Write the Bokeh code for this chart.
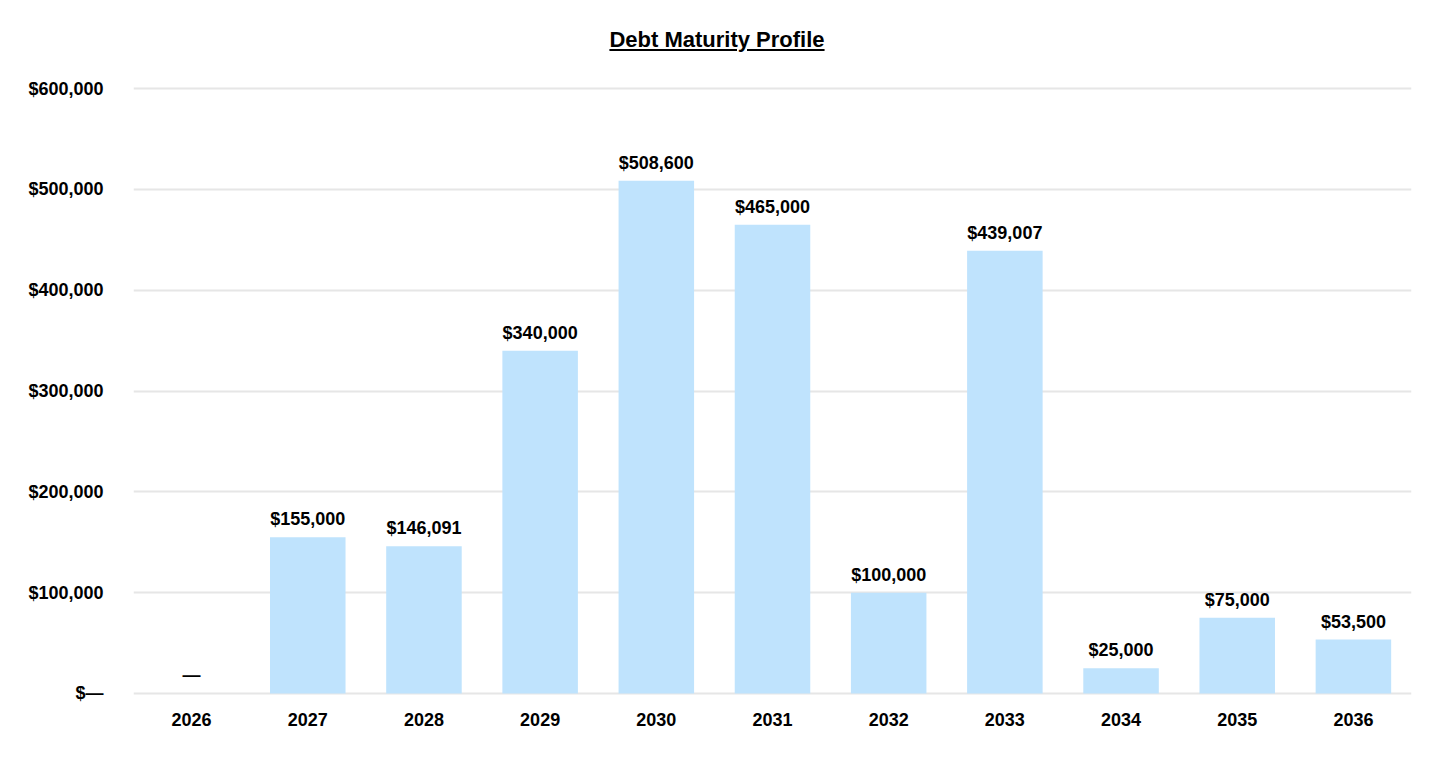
from bokeh.plotting import figure
from bokeh.models import ColumnDataSource, FixedTicker, Div, FactorRange, Range1d
from bokeh.layouts import column
from bokeh.core.properties import value
from bokeh.embed import file_html
from bokeh.resources import INLINE

years = ["2026", "2027", "2028", "2029", "2030", "2031", "2032", "2033", "2034", "2035", "2036"]
amounts = [0, 155000, 146091, 340000, 508600, 465000, 100000, 439007, 25000, 75000, 53500]
y_ticks = [0, 100000, 200000, 300000, 400000, 500000, 600000]
y_tick_labels = ["$\u2014", "$100,000", "$200,000", "$300,000", "$400,000", "$500,000", "$600,000"]
title_text = "Debt Maturity Profile"

labels = ["\u2014" if v == 0 else "${:,}".format(v) for v in amounts]
src = ColumnDataSource(dict(year=years, amount=amounts, label=labels))

FONT = "Liberation Sans"

title = Div(
    text=f'<div style="width:1424px;text-align:center;font-family:\'{FONT}\';font-weight:bold;'
         f'font-size:22px;text-decoration:underline;padding-top:19px;color:#000">{title_text}</div>',
    width=1424, height=60,
)

p = figure(
    x_range=FactorRange(*years), y_range=Range1d(-2000, 603000),
    width=1424, height=684, output_backend="svg", toolbar_location=None,
    min_border_left=133, min_border_right=13, min_border_top=15, min_border_bottom=59,
)
p.outline_line_color = None
p.background_fill_color = "white"
p.border_fill_color = "white"

p.vbar(x="year", top="amount", width=0.65, source=src, fill_color="#bfe3fd", line_color=None)
p.text(x="year", y="amount", text="label", source=src, text_align="center", text_baseline="bottom",
       y_offset=-8, text_font=value(FONT), text_font_style="bold", text_font_size="18px", text_color="#000")

p.yaxis.ticker = FixedTicker(ticks=y_ticks)
p.yaxis.major_label_overrides = {t: l for t, l in zip(y_ticks, y_tick_labels)}
for ax in (p.xaxis[0], p.yaxis[0]):
    ax.axis_line_color = None
    ax.major_tick_line_color = None
    ax.minor_tick_line_color = None
    ax.major_tick_out = 0
    ax.major_tick_in = 0
    ax.major_label_text_font = FONT
    ax.major_label_text_font_style = "bold"
    ax.major_label_text_font_size = "18px"
    ax.major_label_text_color = "#000"
p.yaxis.major_label_standoff = 30
p.xaxis.major_label_standoff = 17

p.xgrid.grid_line_color = None
p.ygrid.grid_line_color = "#e6e6e6"
p.ygrid.grid_line_width = 2

layout = column(title, p, spacing=0)
open("out.html", "w").write(file_html(layout, INLINE))
